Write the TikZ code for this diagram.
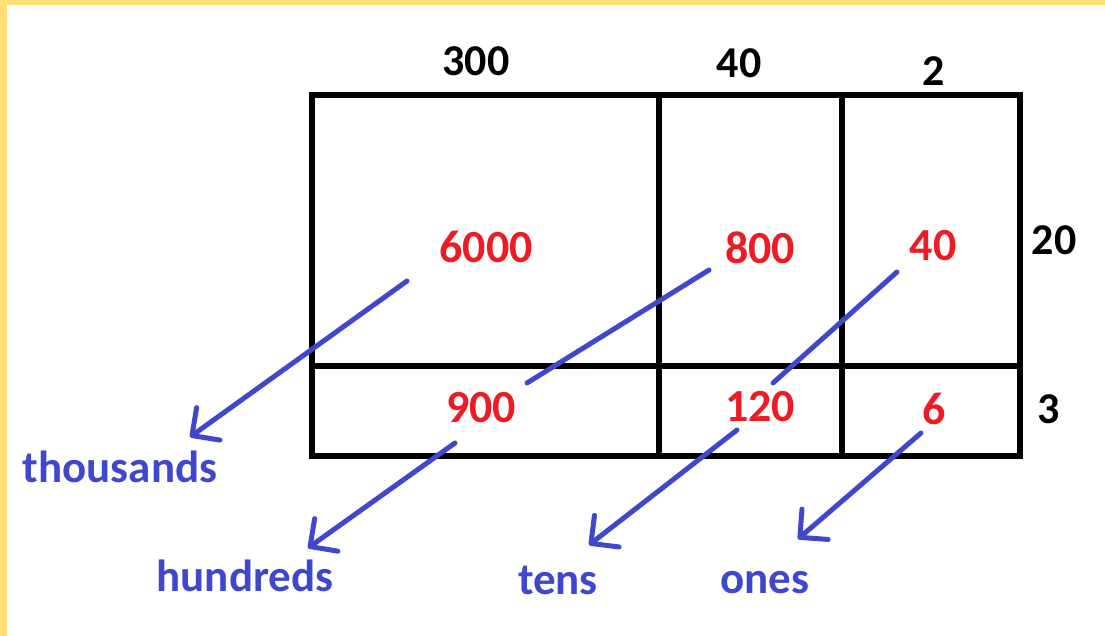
\documentclass[tikz,border=0pt]{standalone}
\usepackage{fontspec}
\setmainfont{Carlito}
\usetikzlibrary{arrows.meta,positioning}
\definecolor{PaintRed}{HTML}{ED1C24}
\definecolor{PaintBlue}{HTML}{3F48CC}
\definecolor{Frame}{HTML}{FFDE75}
\tikzset{
    every node/.style={inner sep=0pt, anchor=base},
    factor/.style={font=\fontsize{22}{26}\selectfont\bfseries, text=black},
    partial/.style={font=\fontsize{23}{27}\selectfont\bfseries, text=PaintRed},
    place/.style={font=\fontsize{22.5}{27}\selectfont\bfseries, text=PaintBlue},
    gridline/.style={line width=2.6pt, black},
    placelink/.style={line width=2.5pt, PaintBlue, line cap=round},
    placearrow/.style={placelink, -{Straight Barb[length=10pt, width=20pt, round]}},
}
\begin{document}
\begin{tikzpicture}[x=0.5pt, y=-0.5pt]
    \useasboundingbox (0,0) rectangle (1105,636);

    % Frame
    \fill[Frame] (0,0) rectangle (7,636);
    \fill[Frame] (0,0) rectangle (1105,5);

    % Area grid
    \draw[gridline] (312,95) rectangle (1020,456);
    \draw[gridline] (659,95) -- (659,459);
    \draw[gridline] (842,95) -- (842,456);
    \draw[gridline] (312,366) -- (1020,366);

    % Factors
    \node[factor] (f300) at (476,76) {300};
    \node[factor] (f40) at (739,78) {40};
    \node[factor] (f2) at (934,86) {2};
    \node[factor] (f20) at (1054,255) {20};
    \node[factor] (f3) at (1049,424) {3};

    % Partial products
    \node[partial] (p6000) at (486,263) {6000};
    \node[partial] (p800) at (760,264) {800};
    \node[partial] (p40) at (933,261) {40};
    \node[partial] (p900) at (481,423) {900};
    \node[partial] (p120) at (760,422) {120};
    \node[partial] (p6) at (934,425) {6};

    % Place values
    \node[place] (thousands) at (120,483) {thousands};
    \node[place] (hundreds) at (245,592) {hundreds};
    \node[place] (tens) at (558,595) {tens};
    \node[place] (ones) at (765,594) {ones};

    % Arrow ends
    \coordinate (a6000) at (407,281);
    \coordinate (tipthou) at (190,437);
    \coordinate (a800) at (709,270);
    \coordinate (b800) at (527,383);
    \coordinate (a900) at (455,443);
    \coordinate (tiphund) at (308,548);
    \coordinate (a40) at (897,272);
    \coordinate (b40) at (773,383);
    \coordinate (a120) at (737,430);
    \coordinate (tipten) at (589,545);
    \coordinate (a6) at (921,433);
    \coordinate (tipone) at (798,539);

    % Grouping arrows
    \draw[placearrow] (a6000) -- (tipthou);
    \draw[placelink] (a800) -- (b800);
    \draw[placearrow] (a900) -- (tiphund);
    \draw[placelink] (a40) -- (b40);
    \draw[placearrow] (a120) -- (tipten);
    \draw[placearrow] (a6) -- (tipone);
\end{tikzpicture}
\end{document}
